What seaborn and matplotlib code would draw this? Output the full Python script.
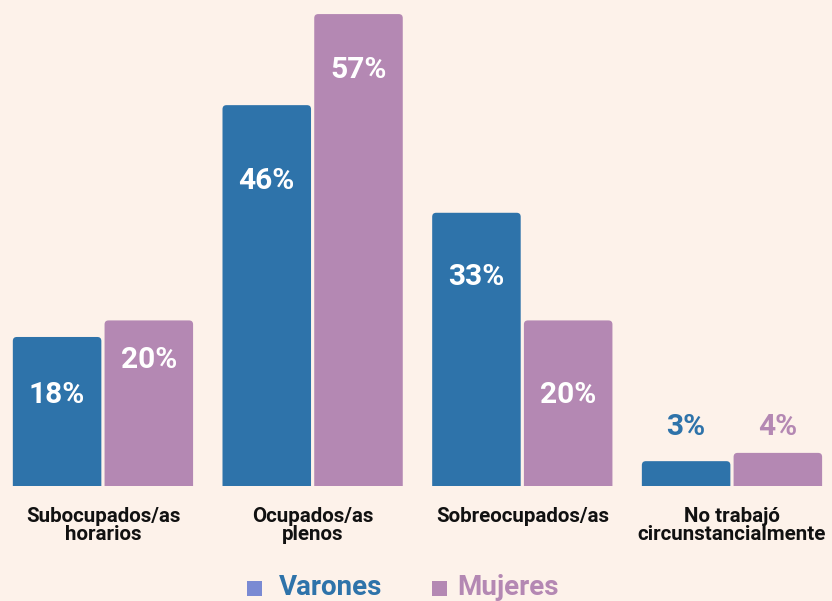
import pandas as pd
import matplotlib.pyplot as plt
import seaborn as sns
from matplotlib.patches import FancyBboxPatch, Rectangle

# datos
categorias = ['Subocupados/as\nhorarios', 'Ocupados/as\nplenos', 'Sobreocupados/as', 'No trabajó\ncircunstancialmente']
varones = [18, 46, 33, 3]
mujeres = [20, 57, 20, 4]
# altura de las etiquetas (en % del eje)
pos_varones = [11, 36.8, 25.2, 7.1]
pos_mujeres = [15.2, 50.2, 11, 7.1]

fondo = '#fdf2ea'
azul = '#2e73aa'
violeta = '#b488b3'

df = pd.DataFrame({
    'categoria': categorias * 2,
    'valor': varones + mujeres,
    'sexo': ['Varones'] * 4 + ['Mujeres'] * 4,
})

sns.set_style('white')
plt.rcParams['font.family'] = ['Roboto', 'DejaVu Sans']

fig = plt.figure(figsize=(8.32, 6.01), dpi=100, facecolor=fondo)
ax = fig.add_axes([0, 115 / 601, 1, 486 / 601])
ax.set_facecolor(fondo)

sns.barplot(data=df, x='categoria', y='valor', hue='sexo', order=categorias,
            hue_order=['Varones', 'Mujeres'], palette=[azul, violeta],
            width=0.875, gap=0.035, saturation=1, legend=False, ax=ax)

ax.set_xlim(-0.491, 3.477)
ax.set_ylim(0, 58.7)

# esquinas redondeadas
px_x = 209.67
px_y = 8.28
for cont in ax.containers:
    for bar in cont:
        x, w, h = bar.get_x(), bar.get_width(), bar.get_height()
        col = bar.get_facecolor()
        bar.set_visible(False)
        p = FancyBboxPatch((x, -2), w, h + 2,
                           boxstyle='round,pad=0,rounding_size=%f' % (4 / px_x),
                           mutation_aspect=px_x / px_y,
                           facecolor=col, edgecolor='none')
        ax.add_patch(p)

# etiquetas
for cont, vals, pos, col in [(ax.containers[0], varones, pos_varones, azul),
                             (ax.containers[1], mujeres, pos_mujeres, violeta)]:
    for bar, v, yy in zip(cont, vals, pos):
        cx = bar.get_x() + bar.get_width() / 2
        c = 'white' if v > 10 else col
        ax.text(cx, yy, f'{v}%', ha='center', va='center', color=c,
                fontsize=21.5, fontweight='bold')

ax.set_xticks(range(4))
ax.set_xticklabels(categorias, fontsize=14.8, fontweight='bold', color='#111111',
                   linespacing=0.95, va='top')
ax.tick_params(axis='x', length=0, pad=15)
ax.set_yticks([])
ax.set_xlabel('')
ax.set_ylabel('')
for s in ax.spines.values():
    s.set_visible(False)

# leyenda (manual)
W, H = 832, 601
for x0, xt, color_cuadro, color_txt, txt in [(247, 279, '#7a8ad3', azul, 'Varones'),
                                             (432, 457, violeta, violeta, 'Mujeres')]:
    fig.add_artist(Rectangle((x0 / W, 5 / H), 15 / W, 15 / H, transform=fig.transFigure,
                             facecolor=color_cuadro, edgecolor='none'))
    fig.text(xt / W, 6 / H, txt, ha='left', va='baseline', color=color_txt,
             fontsize=20, fontweight='bold')

fig.savefig('out.png', dpi=100, facecolor=fondo)
